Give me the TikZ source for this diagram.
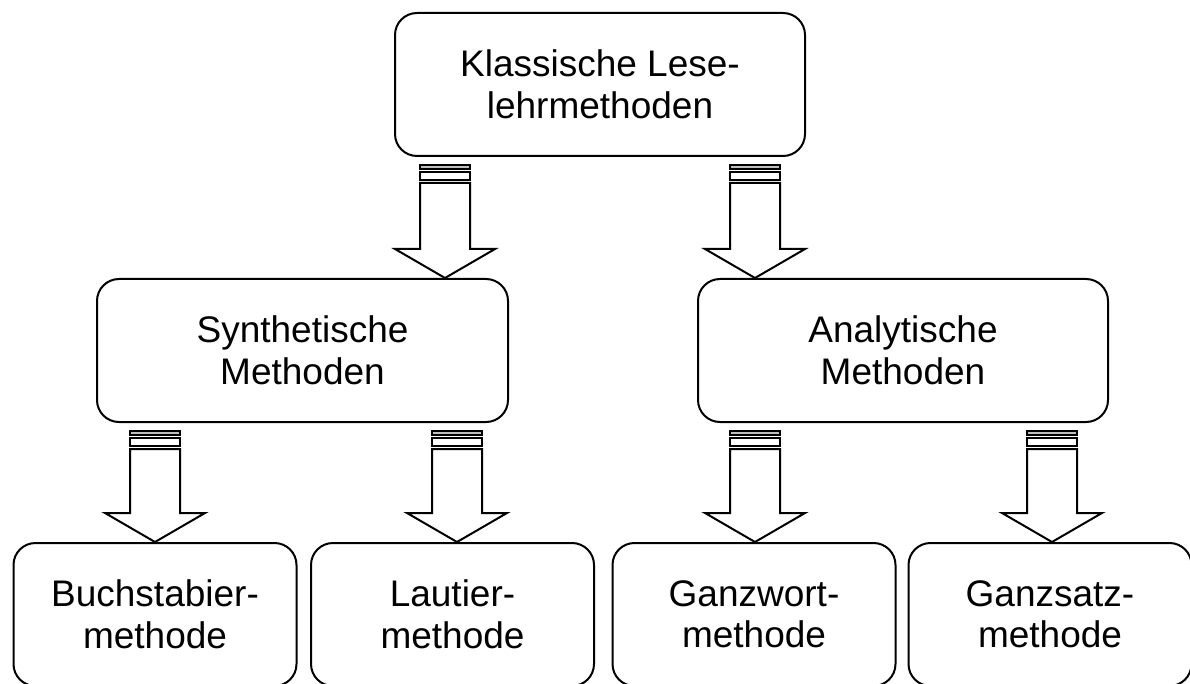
\documentclass[tikz,border=0pt]{standalone}
\usepackage{fontspec}
\setmainfont{Liberation Sans}
\usepackage{tikz}
\usetikzlibrary{calc}

% hollow block arrow from node #1 down to node #2, at x = #3
\newcommand{\blockarrow}[3]{%
  \coordinate (s) at (#3,0 |- #1.south);
  \coordinate (t) at (#3,0 |- #2.north);
  \draw[line width=1.5pt, fill=gray!50] ($(s)+(-25,8)$) rectangle ($(s)+(25,12)$);
  \draw[line width=1.5pt] ($(s)+(-25,15)$) rectangle ($(s)+(25,23)$);
  \draw[line width=2pt] ($(s)+(-25,26)$) -- ($(t)+(-25,-29)$) -- ($(t)+(-50,-29)$)
    -- (t) -- ($(t)+(50,-29)$) -- ($(t)+(25,-29)$) -- ($(s)+(25,26)$) -- cycle;
}

\begin{document}
\begin{tikzpicture}[x=1pt, y=-1pt,
  box/.style={draw, line width=2pt, rounded corners=22pt, align=center, inner sep=0pt,
    minimum height=143pt, font=\fontsize{37}{41.5}\selectfont}]
  \path[use as bounding box, clip] (0,0) rectangle (1190,684);

  \node[box, minimum width=410pt] (lese) at (600,84.5) {Klassische Lese-\\lehrmethoden};

  \node[box, minimum width=411pt] (synth) at (302.5,350.5) {Synthetische\\Methoden};
  \node[box, minimum width=410pt] (analyt) at (903,350.5) {Analytische\\Methoden};

  \node[box, minimum width=283pt] (buch) at (155,614.5) {Buchstabier-\\methode};
  \node[box, minimum width=283pt] (laut) at (452.5,614.5) {Lautier-\\methode};
  \node[box, minimum width=283pt] (wort) at (754,614.5) {Ganzwort-\\methode};
  \node[box, minimum width=283pt] (satz) at (1050,614.5) {Ganzsatz-\\methode};

  \blockarrow{lese}{synth}{445}
  \blockarrow{lese}{analyt}{755}
  \blockarrow{synth}{buch}{155}
  \blockarrow{synth}{laut}{457}
  \blockarrow{analyt}{wort}{755}
  \blockarrow{analyt}{satz}{1052}
\end{tikzpicture}
\end{document}
